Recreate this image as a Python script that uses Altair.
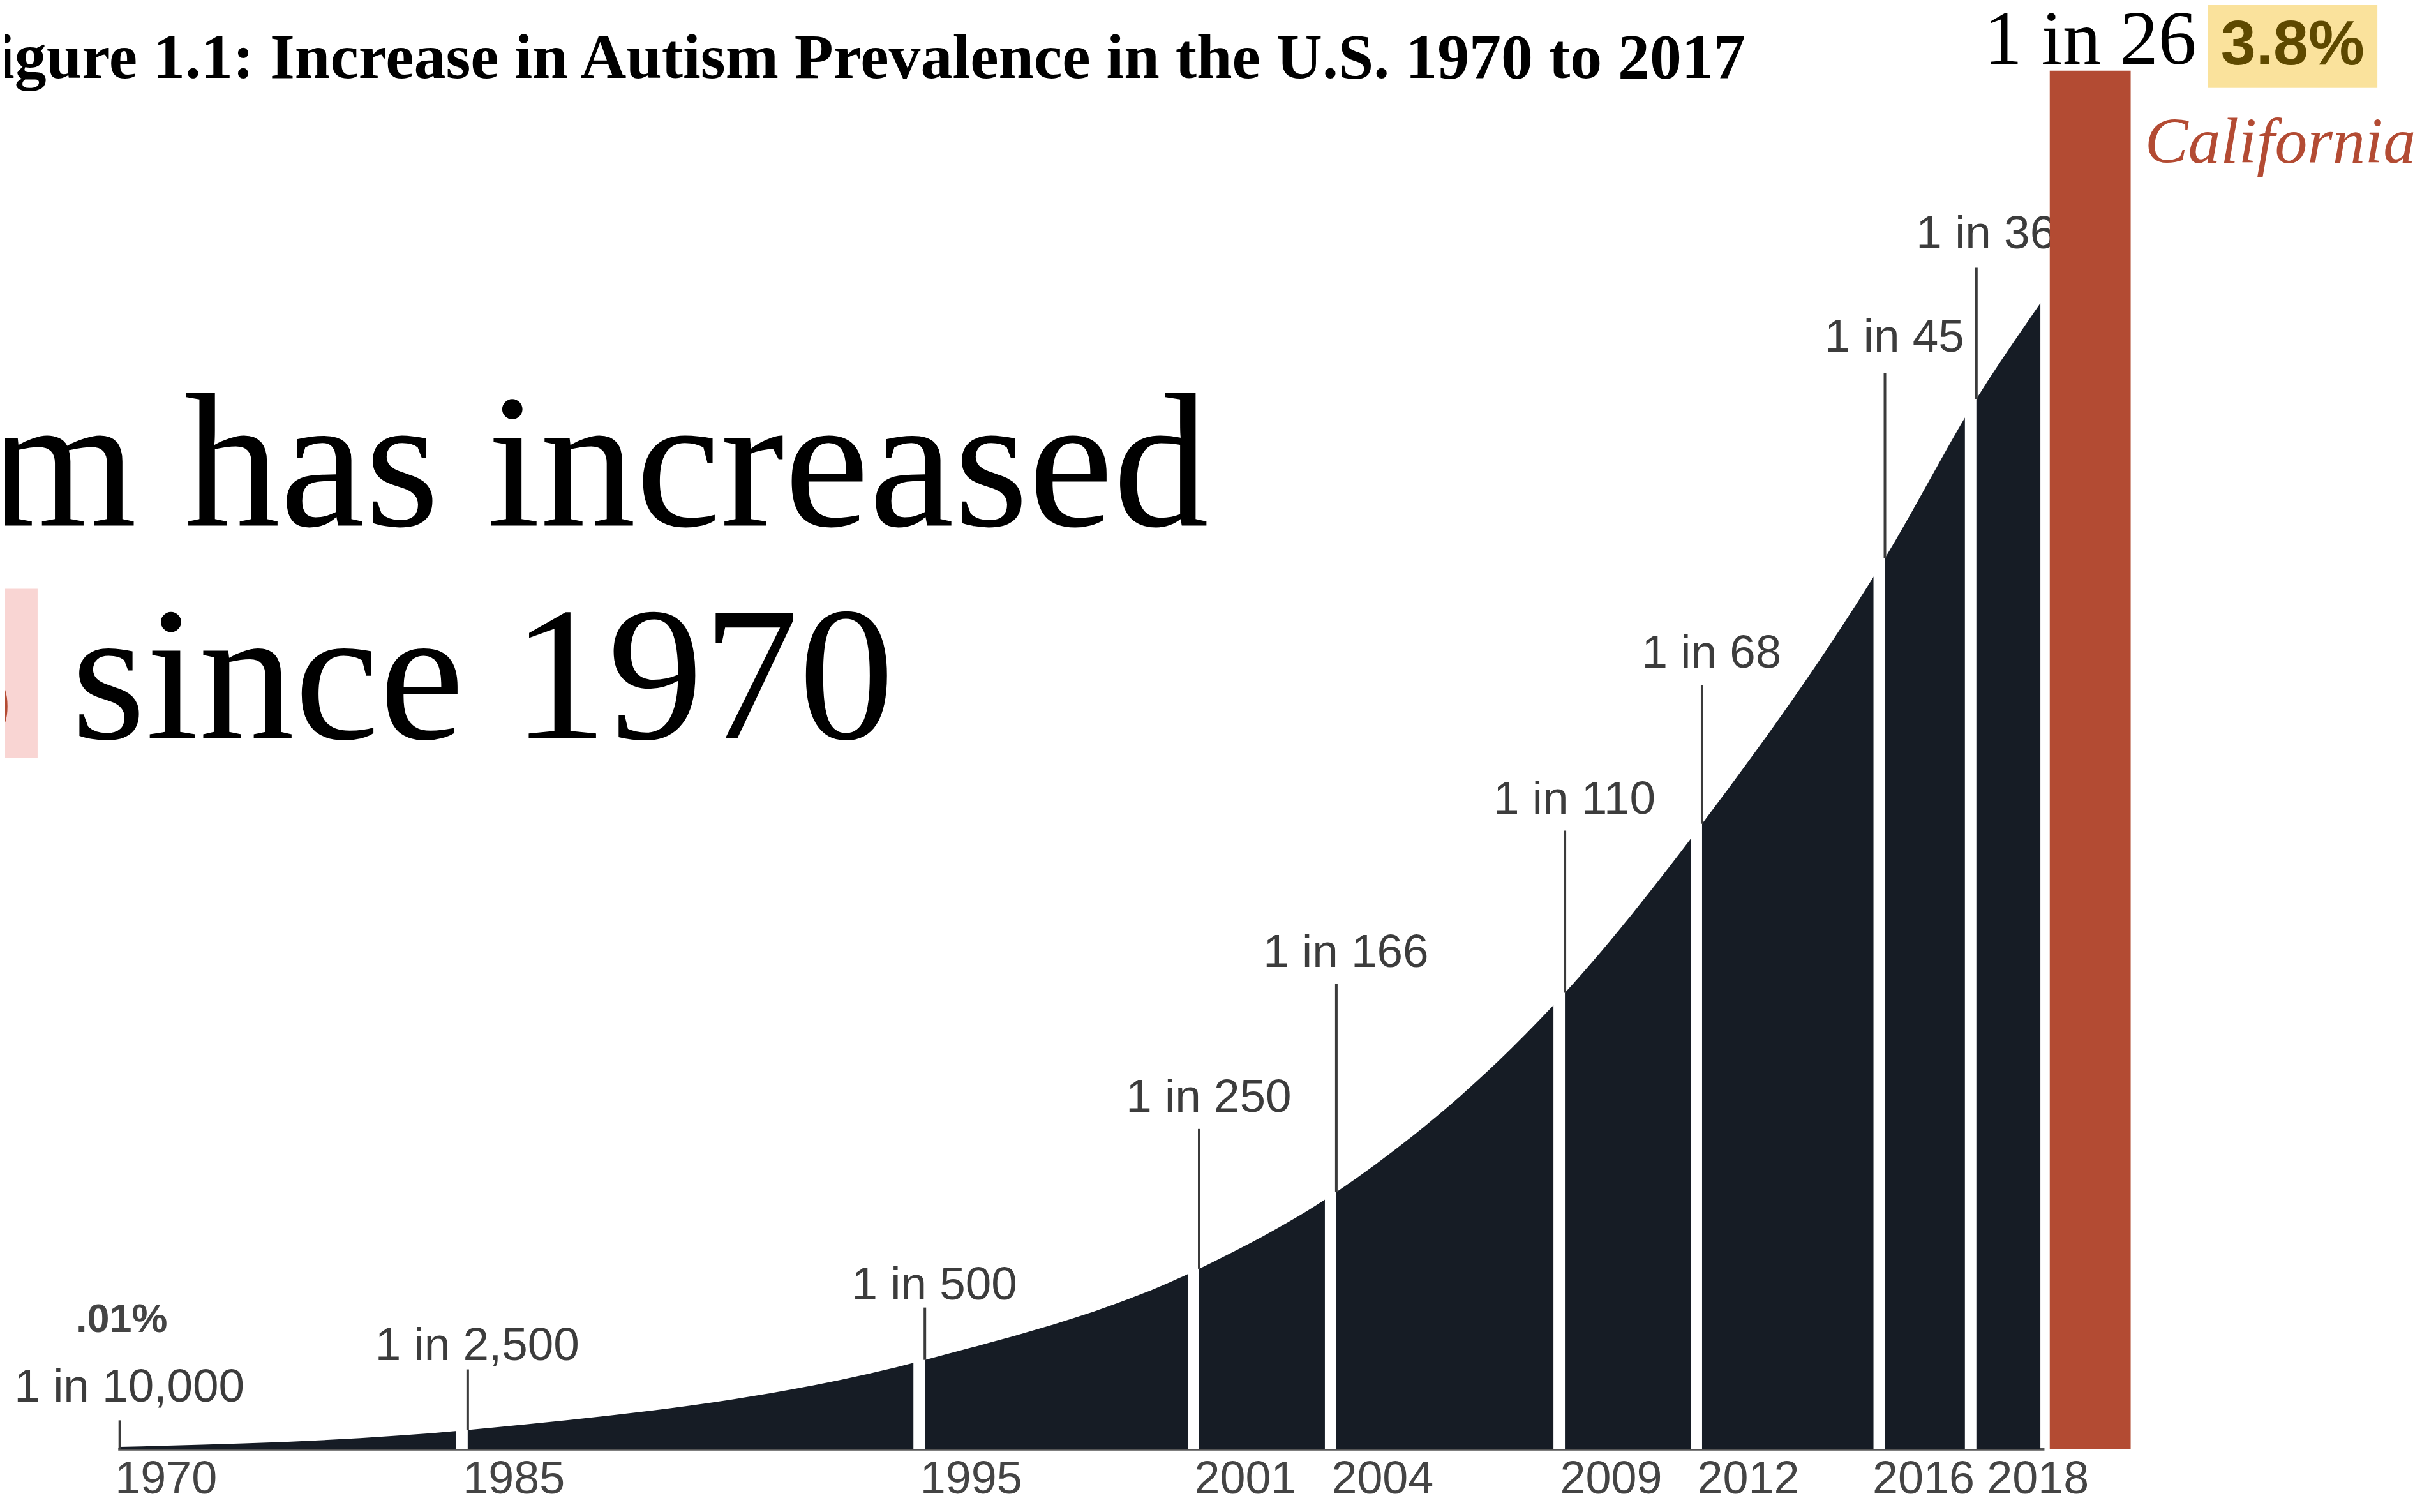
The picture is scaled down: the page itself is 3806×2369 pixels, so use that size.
import altair as alt
import pandas as pd

# ---- data ----
years = [1970, 1985, 1995, 2001, 2004, 2009, 2012, 2016, 2018]
labels = ["1 in 10,000", "1 in 2,500", "1 in 500", "1 in 250", "1 in 166",
          "1 in 110", "1 in 68", "1 in 45", "1 in 36"]
# curve (prevalence, chart units) at each marker year plus the end of the shape
curve_years = [1970, 1985, 1995, 2001, 2004, 2009, 2012, 2016, 2018, 2019.4]
curve_values = [0.00005, 0.00046, 0.00216, 0.00437, 0.00623, 0.01106,
                0.01516, 0.0216, 0.02546, 0.02778]
# leader lines: bottom (on curve) and top (under label)
line_bottom = [0.0, 0.00046, 0.00216, 0.00437, 0.00623, 0.01106, 0.01516, 0.0216, 0.02546]
line_top = [0.000695, 0.00193, 0.00343, 0.00776, 0.01128, 0.01499, 0.01852, 0.02609, 0.02864]
label_pos = [0.001143, 0.002163, 0.00363, 0.00817, 0.01169, 0.0154, 0.01894, 0.0266, 0.02912]

pct_label = [".01%"]
pct_pos = [0.00284]

cal_label = ["1 in 26"]
cal_x = [2020.49]
cal_value = [0.03342]
cal_pct = ["3.8%"]
cal_name = ["California"]

title_text = "Figure 1.1: Increase in Autism Prevalence in the U.S. 1970 to 2017"
big_line1 = "Autism has increased"
big_line2 = "since 1970"

# ---- tables ----
curve_df = pd.DataFrame({"year": curve_years, "value": curve_values})
ann_df = pd.DataFrame({"year": years, "label": labels, "line_bottom": line_bottom,
                       "line_top": line_top, "label_pos": label_pos})
gap_df = pd.DataFrame({"year": years[1:], "base": [0.0] * (len(years) - 1),
                       "line_top": line_top[1:]})
pct_df = pd.DataFrame({"year": [years[0]], "label": pct_label, "pos": pct_pos})
cal_df = pd.DataFrame({"year": cal_x, "value": cal_value, "label": cal_label})

xscale = alt.Scale(domain=[1970, 1985, 2019.4], range=[177, 726, 3200], nice=False, zero=False)
yscale = alt.Scale(domain=[0, 0.03498], nice=False, zero=True)
xaxis = alt.Axis(values=years, format="d", title=None, ticks=False, tickSize=0, grid=False,
                 domainColor="#555555", domainWidth=4,
                 labelFont="Liberation Sans", labelFontSize=72, labelColor="#444444",
                 labelAlign="left", labelBaseline="alphabetic", labelPadding=69,
                 labelOverlap=False, labelFlush=False, labelBound=False,
                 labelOffset={"condition": [{"test": "datum.value == 2016", "value": -20},
                                            {"test": "datum.value == 2018", "value": 16}],
                              "value": -8})


def X(field):
    return alt.X(field, type="quantitative", scale=xscale, axis=xaxis)


def Y(field):
    return alt.Y(field, type="quantitative", scale=yscale, axis=None)


area = alt.Chart(curve_df).mark_area(color="#161c25", interpolate="monotone").encode(
    x=X("year"), y=Y("value"))

gaps = alt.Chart(gap_df).mark_rule(color="white", strokeWidth=18, xOffset=-9).encode(
    x=X("year"), y=Y("base"), y2="line_top")

lines = alt.Chart(ann_df).mark_rule(color="#3b3b3b", strokeWidth=4).encode(
    x=X("year"), y=Y("line_bottom"), y2="line_top")

lbls = alt.Chart(ann_df).mark_text(font="Liberation Sans", fontSize=73, color="#3c3c3c",
                                   dx=15, align="center", baseline="alphabetic").encode(
    x=X("year"), y=Y("label_pos"), text="label:N")

pct = alt.Chart(pct_df).mark_text(font="Liberation Sans", fontSize=63, fontWeight="bold",
                                  color="#444444", dx=3, align="center",
                                  baseline="alphabetic").encode(
    x=X("year"), y=Y("pos"), text="label:N")

bar = alt.Chart(cal_df).mark_bar(color="#B34B33", size=127).encode(
    x=X("year"), y=Y("value"))

bar_lbl = alt.Chart(cal_df).mark_text(font="Liberation Serif", fontSize=120, color="black",
                                      dy=-11, align="center", baseline="alphabetic").encode(
    x=X("year"), y=Y("value"), text="label:N")


def note(text, x, y, **kw):
    return alt.Chart(pd.DataFrame({"t": [text]})).mark_text(baseline="alphabetic", **kw).encode(
        x=alt.value(x), y=alt.value(y), text="t:N")


def box(x, x2, y, y2, color):
    return alt.Chart(pd.DataFrame({"k": [0]})).mark_rect(color=color).encode(
        x=alt.value(x), x2=alt.value(x2), y=alt.value(y), y2=alt.value(y2))


title = note(title_text, 2731, 112, align="right", font="Liberation Serif",
             fontSize=100, fontWeight="bold", color="black")
big1 = note(big_line1, 1889, 815, align="right", font="Liberation Serif", fontSize=300,
            color="black")
pink = box(-20, 51, 914, 1180, "#F9D5D3")
red_pct = note("%", 14, 1149, align="right", font="Liberation Serif", fontSize=300,
               color="#B34B33")
big2 = note(big_line2, 104, 1149, align="left", font="Liberation Serif", fontSize=300,
            color="black")
yellow = box(3457, 3723, -10, 128, "#FAE29C")
pct38 = note(cal_pct[0], 3590, 91, align="center", font="Liberation Sans", fontSize=99,
             fontWeight="bold", color="#5E4900")
calif = note(cal_name[0], 3358, 246, align="left", font="Liberation Serif", fontSize=102,
             fontStyle="italic", color="#B34B33")

chart = alt.layer(
    area, gaps, lines, lbls, pct, bar, bar_lbl,
    title, big1, pink, red_pct, big2, yellow, pct38, calif
).properties(
    width=3796, height=2264,
    padding={"left": 0, "top": 0, "right": 0, "bottom": 84},
    autosize=alt.AutoSizeParams(type="none"),
    background="white",
).configure_view(stroke=None)

chart.save("out.html", embed_options={"renderer": "svg", "actions": False})
